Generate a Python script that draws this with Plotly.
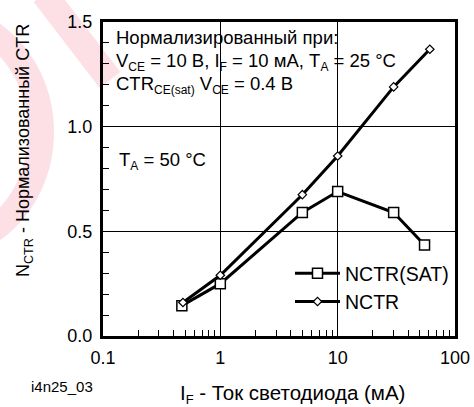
import numpy as np
import plotly.graph_objects as go

# Forward current, mA
if_sat = [0.47, 1.0, 5.0, 10.0, 30.0, 55.0]
if_nctr = [0.48, 1.0, 5.0, 10.0, 30.0, 61.0]
# Normalized CTR values
nctr_sat = [0.145, 0.25, 0.59, 0.69, 0.59, 0.435]
nctr = [0.16, 0.29, 0.675, 0.86, 1.19, 1.37]

x_tickvals = [0.1, 1, 10, 100]
x_ticktext = ["0.1", "1", "10", "100"]
y_tickvals = [0.0, 0.5, 1.0, 1.5]

W, H = 474, 407
L, R, T, B = 103, 455, 22, 336
PW, PH = R - L, B - T
FONT = "Liberation Sans, Arial, sans-serif"


def px(x):
    return (x - L) / PW


def py(y):
    return (B - y) / PH


def poly_path(points):
    pts = [f"{px(x):.4f},{py(y):.4f}" for x, y in points]
    return "M" + " L".join(pts) + " Z"


def low(s, size=12):
    # subscript in a smaller fixed size
    return f"<sub><span style='font-size:{size}px'>{s}</span></sub>"


fig = go.Figure()
fig.add_trace(go.Scatter(
    x=if_sat, y=nctr_sat, mode="lines+markers", name="NCTR(SAT)",
    legendgroup="a",
    line=dict(color="black", width=3),
    marker=dict(symbol="square", size=10, color="white",
                line=dict(color="black", width=1.5)),
))
fig.add_trace(go.Scatter(
    x=if_nctr, y=nctr, mode="lines+markers", name="NCTR",
    legendgroup="b",
    line=dict(color="black", width=3),
    marker=dict(symbol="diamond", size=6.5, color="white",
                line=dict(color="black", width=1.2)),
))

# faint pink watermark behind the chart
pink = "rgba(251,214,222,0.75)"
p1, p2 = np.array([44.0, -6.0]), np.array([110.0, 80.0])
d = (p2 - p1) / np.linalg.norm(p2 - p1)
n = np.array([d[1], -d[0]]) * 13
band = [p1 + n, p2 + n, p2 - n, p1 - n]
t = np.linspace(-np.pi / 2, np.pi / 2, 60)
cx, cy = -62, 132
outer = [(cx + 116 * np.cos(a), cy + 128 * np.sin(a)) for a in t]
inner = [(cx + 90 * np.cos(a), cy + 104 * np.sin(a)) for a in t[::-1]]
for shape_pts in (band, outer + inner):
    fig.add_shape(type="path", xref="paper", yref="paper",
                  path=poly_path(shape_pts), fillcolor=pink,
                  line=dict(width=0), layer="below")

fs = 18.5
ann = [
    (114, 37.8, "Нормализированный при:", "left", 0, fs),
    (114, 61.8, f"V{low('CE')} = 10 В, I{low('F')} = 10 мА, T{low('A')} = 25 °C", "left", 0, fs),
    (114, 84.8, f"CTR{low('CE(sat)')} V{low('CE')} = 0.4 В", "left", 0, fs),
    (117, 161, f"T{low('A')} = 50 °C", "left", 0, fs),
    (292, 394, f"I{low('F', 13)} - Ток светодиода (мА)", "center", 0, 20.5),
    (62, 386, "i4n25_03", "center", 0, 15),
    (24, 151, "N<sub>CTR</sub> - Нормализованный CTR", "center", -90, 18),
]
for x, y, text, xa, ang, size in ann:
    fig.add_annotation(x=px(x), y=py(y), xref="paper", yref="paper",
                       text=text, showarrow=False, xanchor=xa,
                       yanchor="middle", textangle=ang,
                       font=dict(family=FONT, size=size, color="black"))

fig.update_xaxes(
    type="log", range=[-1, 2], tickvals=x_tickvals, ticktext=x_ticktext,
    showline=True, linewidth=3, linecolor="black", mirror=True,
    ticks="inside", ticklen=6, tickwidth=1, tickcolor="black",
    showgrid=True, gridcolor="black", gridwidth=1, automargin=False,
    ticklabelstandoff=3,
    minor=dict(ticks="inside", ticklen=6, tickwidth=1, tickcolor="black",
               dtick="D1", showgrid=False),
    tickfont=dict(family=FONT, size=18, color="black"),
)
fig.update_yaxes(
    range=[0, 1.5], tickvals=y_tickvals, tickformat=".1f",
    showline=True, linewidth=3, linecolor="black", mirror=True,
    ticks="inside", ticklen=6, tickwidth=1, tickcolor="black",
    showgrid=True, gridcolor="black", gridwidth=1, zeroline=False,
    automargin=False, ticklabelstandoff=4,
    minor=dict(ticks="inside", ticklen=6, tickwidth=1, tickcolor="black",
               dtick=0.1, showgrid=False),
    tickfont=dict(family=FONT, size=18, color="black"),
)

fig.update_layout(
    width=W, height=H,
    margin=dict(l=L, r=W - R, t=T, b=H - B),
    paper_bgcolor="white", plot_bgcolor="rgba(0,0,0,0)",
    font=dict(family=FONT, size=fs, color="black"),
    showlegend=True,
    legend=dict(x=px(290), y=py(254), xanchor="left", yanchor="top",
                bgcolor="rgba(0,0,0,0)", tracegroupgap=0,
                traceorder="grouped", itemwidth=45,
                font=dict(family=FONT, size=19.5, color="black")),
)

fig.write_html("out.html")
